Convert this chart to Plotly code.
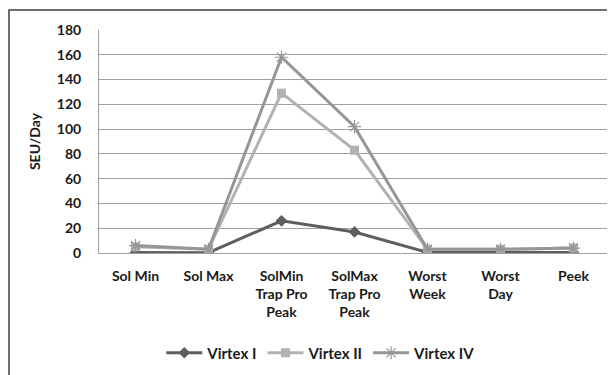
import plotly.graph_objects as go

categories = ["Sol Min", "Sol Max", "SolMin<br>Trap Pro<br>Peak", "SolMax<br>Trap Pro<br>Peak",
              "Worst<br>Week", "Worst<br>Day", "Peek"]
virtex_i = [0.5, 0.3, 26, 17, 0.5, 0.5, 0.5]
virtex_ii = [5, 3, 129, 83, 3, 3, 4]
virtex_iv = [6, 3, 158, 102, 3, 3, 4]
y_ticks = [0, 20, 40, 60, 80, 100, 120, 140, 160, 180]

FONT = "Lato"
fig = go.Figure()
fig.add_trace(go.Scatter(x=categories, y=virtex_i, name="Virtex I", mode="lines+markers",
                         line=dict(color="#5e5e5e", width=3),
                         marker=dict(symbol="diamond", size=9, color="#5e5e5e")))
fig.add_trace(go.Scatter(x=categories, y=virtex_ii, name="Virtex II", mode="lines+markers",
                         line=dict(color="#b2b2b2", width=3),
                         marker=dict(symbol="square", size=9, color="#b2b2b2")))
fig.add_trace(go.Scatter(x=categories, y=virtex_iv, name="Virtex IV", mode="lines+markers",
                         line=dict(color="#969696", width=3),
                         marker=dict(symbol="asterisk-open", size=11,
                                     line=dict(color="#a0a0a0", width=1.2))))

# page has an 8px body margin; figure is sized so it fits the 615x375 window
W, H = 607, 367
L, R, T, B = 91, 5, 22, 122
pw, ph = W - L - R, H - T - B

fig.update_layout(
    width=W, height=H,
    margin=dict(l=L, r=R, t=T, b=B),
    paper_bgcolor="white", plot_bgcolor="white",
    font=dict(family=FONT, size=14, color="#1a1a1a"),
    showlegend=True,
    legend=dict(orientation="h", x=0.434, xanchor="center", y=-100 / ph, yanchor="middle",
                font=dict(family=FONT, size=15, color="#1a1a1a", weight="bold"),
                itemwidth=36, tracegroupgap=0),
    xaxis=dict(type="category", showgrid=False, showline=True, linecolor="#a0a0a0",
               linewidth=1, ticks="", tickfont=dict(family=FONT, size=14, weight="bold"),
               ticklabelstandoff=10, range=[-0.5, 6.5], fixedrange=True),
    yaxis=dict(range=[0, 180], tickvals=y_ticks, showgrid=True, gridcolor="#a0a0a0",
               gridwidth=1, showline=True, linecolor="#a0a0a0", linewidth=1,
               ticks="", ticklabelstandoff=14,
               zeroline=False, tickfont=dict(family=FONT, size=14, weight="bold"),
               title=dict(text="SEU/Day", font=dict(family=FONT, size=14, weight="bold"),
                          standoff=12)),
    shapes=[dict(type="rect", xref="paper", yref="paper",
                 x0=(1 - L) / pw, x1=1 + 30 / pw, y0=-(B + 30) / ph, y1=1 + (T - 2) / ph,
                 line=dict(color="#404040", width=1.5), fillcolor="rgba(0,0,0,0)", layer="below")],
)

fig.write_html("out.html")
